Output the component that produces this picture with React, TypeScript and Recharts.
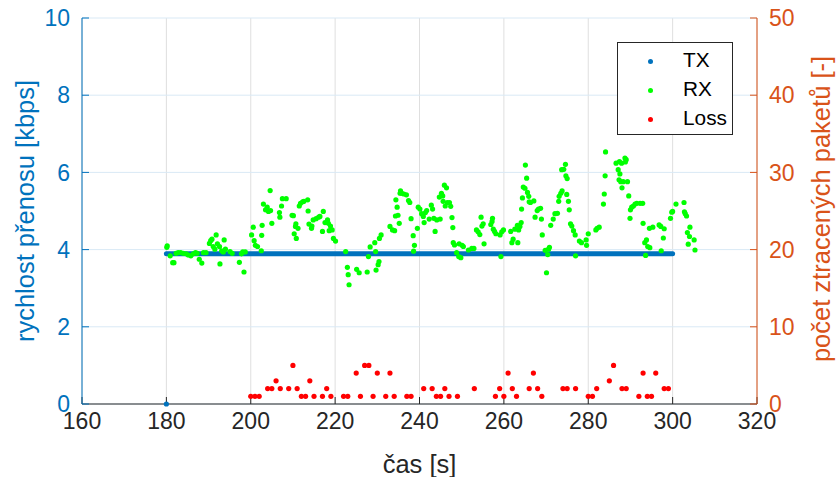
import { ScatterChart, Scatter, XAxis, YAxis, CartesianGrid } from 'recharts'

const BLUE = '#0072BD'
const ORANGE = '#D95319'
const INK = '#262626'
const FONT = '"Liberation Sans", Arial, Helvetica, sans-serif'

const xTicks = [160, 180, 200, 220, 240, 260, 280, 300, 320]
const rateTicks = [0, 2, 4, 6, 8, 10]
const lossTicks = [0, 10, 20, 30, 40, 50]

// TX: first sample is 0, then a steady rate to the end
const txTime = [180, 180, 300]
const txRate = [0, 3.89, 3.89]

const rxTime = [
  180.1, 180.2, 180.9, 181.5, 181.8, 182.3, 182.8, 183.4, 184.0, 184.7, 185.2, 185.8, 186.4, 186.9, 187.3,
  187.8, 188.4, 188.8, 189.4, 190.2, 190.5, 190.8, 191.1, 191.5, 191.8, 192.1, 192.6, 192.7, 193.1, 193.5,
  193.7, 194.0, 195.1, 195.6, 197.3, 197.8, 198.1, 198.4, 198.7, 200.2, 200.6, 200.8, 201.1, 201.6, 202.5,
  202.6, 202.7, 203.0, 203.5, 203.9, 204.2, 204.6, 204.7, 205.0, 206.8, 206.9, 207.3, 207.5, 208.4, 209.8,
  210.1, 210.3, 210.6, 210.7, 210.8, 211.2, 211.5, 211.8, 212.3, 212.6, 213.5, 213.6, 213.8, 214.4, 214.5,
  214.8, 215.5, 216.1, 216.4, 217.0, 217.2, 217.6, 218.2, 218.4, 218.6, 218.9, 219.3, 219.6, 220.1, 222.5,
  222.9, 223.1, 223.3, 225.1, 225.7, 227.6, 227.9, 228.3, 229.4, 229.6, 229.7, 230.2, 230.4, 230.5, 230.9,
  233.0, 233.6, 234.1, 234.3, 234.4, 234.7, 234.9, 235.2, 235.4, 235.5, 235.8, 236.3, 236.9, 237.4, 237.7,
  238.0, 238.5, 238.6, 238.8, 239.5, 239.7, 240.1, 240.5, 240.9, 241.1, 241.4, 241.7, 242.3, 242.8, 243.1,
  243.4, 243.7, 244.1, 244.7, 244.9, 245.2, 245.5, 245.6, 245.9, 246.1, 246.4, 246.6, 247.1, 247.4, 247.7,
  247.9, 248.0, 248.3, 248.8, 249.3, 249.4, 249.8, 250.1, 250.4, 251.6, 252.4, 252.9, 253.5, 253.9, 254.3,
  254.6, 254.8, 255.1, 255.3, 256.9, 257.2, 257.3, 257.5, 257.8, 258.1, 259.1, 259.3, 259.5, 259.9, 261.6,
  261.9, 262.2, 262.6, 263.2, 263.3, 263.5, 263.8, 264.1, 264.2, 264.4, 264.6, 265.0, 265.1, 265.4, 265.6,
  265.9, 266.0, 266.3, 267.1, 267.4, 267.9, 268.2, 268.7, 268.9, 269.1, 269.8, 270.1, 270.4, 270.6, 270.8,
  271.1, 271.7, 272.1, 272.7, 273.0, 273.1, 273.5, 273.7, 273.8, 274.2, 274.6, 274.7, 274.9, 275.0, 275.3,
  275.5, 275.8, 276.1, 276.5, 276.9, 277.0, 277.9, 278.4, 279.5, 279.6, 280.0, 281.8, 282.1, 282.6, 283.6,
  283.8, 284.0, 284.1, 286.6, 287.4, 287.9, 288.7, 289.0, 288.8, 287.1, 287.5, 287.3, 287.7, 288.3, 289.3,
  288.0, 289.6, 290.3, 290.7, 291.1, 291.5, 292.3, 292.9, 290.0, 289.9, 293.0, 294.5, 295.3, 293.8, 293.4,
  294.1, 294.6, 293.6, 296.8, 297.2, 298.0, 297.8, 297.3, 299.5, 299.8, 300.0, 300.8, 302.7, 302.8, 303.0,
  303.3, 304.1, 303.5, 304.0, 303.7, 305.1, 305.3,
]
const rxRate = [
  4.06, 4.10, 3.84, 3.66, 3.66, 3.90, 3.92, 3.92, 3.90, 3.89, 3.86, 3.84, 3.89, 3.92, 3.90,
  3.75, 3.65, 3.92, 3.92, 4.16, 4.23, 4.27, 4.08, 4.01, 4.38, 4.15, 4.08, 3.63, 3.97, 3.94,
  4.25, 4.01, 3.95, 3.90, 3.67, 3.89, 3.94, 3.42, 3.94, 4.38, 4.58, 4.23, 4.11, 4.08, 3.97,
  4.37, 4.63, 5.18, 5.03, 5.10, 4.99, 5.53, 5.01, 4.68, 4.96, 4.84, 5.13, 5.32, 5.32, 4.89,
  4.88, 4.41, 4.60, 4.67, 4.29, 4.55, 5.13, 5.20, 5.24, 5.25, 5.29, 5.00, 4.66, 4.55, 4.61,
  4.77, 4.80, 4.84, 4.86, 4.47, 4.99, 4.70, 4.77, 4.68, 4.49, 4.61, 4.51, 4.29, 4.22, 3.95,
  3.54, 3.35, 3.09, 3.49, 3.40, 3.42, 3.82, 4.07, 4.18, 3.95, 3.47, 3.61, 3.69, 4.29, 4.38,
  4.60, 4.51, 4.49, 4.87, 5.29, 5.10, 4.89, 4.68, 5.46, 5.52, 5.46, 5.44, 5.42, 5.27, 5.22,
  4.80, 4.36, 3.96, 4.11, 4.55, 5.10, 5.05, 4.93, 4.86, 4.70, 4.96, 5.01, 4.79, 5.15, 5.05,
  4.81, 4.47, 4.77, 5.36, 4.79, 5.46, 5.39, 5.25, 5.67, 5.13, 5.60, 5.22, 5.22, 5.12, 4.83,
  4.57, 4.18, 4.12, 3.92, 3.82, 4.15, 3.79, 4.11, 4.08, 3.99, 4.03, 4.03, 4.51, 4.46, 4.39,
  4.84, 4.61, 4.67, 4.15, 4.65, 4.73, 4.81, 4.53, 4.47, 4.41, 4.38, 3.82, 4.46, 4.51, 4.47,
  4.18, 4.27, 4.53, 4.63, 4.18, 4.51, 4.60, 4.70, 5.05, 5.34, 5.62, 5.59, 6.19, 5.85, 5.48,
  5.38, 5.24, 5.22, 5.26, 4.84, 5.01, 5.05, 5.07, 4.79, 4.38, 3.98, 3.40, 3.87, 4.01, 4.06,
  4.63, 4.79, 4.93, 4.94, 5.25, 5.38, 5.46, 6.07, 5.52, 6.08, 6.21, 5.91, 5.43, 5.84, 5.25,
  5.03, 4.67, 4.61, 4.49, 4.38, 3.84, 4.22, 4.18, 4.25, 4.11, 4.41, 4.51, 4.55, 4.58, 5.18,
  5.44, 5.91, 6.53, 6.24, 6.28, 6.24, 6.37, 6.33, 6.27, 6.07, 5.96, 5.81, 5.76, 5.76, 5.76,
  5.60, 5.39, 5.10, 5.13, 5.18, 5.20, 5.20, 5.20, 5.03, 4.81, 4.68, 4.55, 4.58, 4.25, 4.18,
  4.08, 4.05, 3.85, 4.64, 4.60, 4.54, 4.30, 3.97, 4.81, 4.97, 4.99, 5.18, 5.22, 4.98, 4.93,
  4.87, 4.58, 4.44, 4.34, 4.14, 4.25, 3.99,
]

const lossTime = [
  200, 201, 202, 204, 205, 206, 207, 209, 210, 211, 212, 213, 214, 215, 217, 218, 219, 222, 223, 225,
  226, 227, 228, 229, 230, 232, 233, 234, 237, 238, 241, 243, 244, 245, 246, 247, 249, 253, 258, 259,
  260, 261, 262, 263, 266, 267, 268, 269, 274, 275, 277, 280, 281, 282, 285, 286, 288, 289, 292, 293,
  294, 295, 296, 298, 299,
]
const lossCount = [
  1, 1, 1, 2, 2, 3, 2, 2, 5, 2, 1, 1, 3, 1, 1, 2, 1, 1, 1, 4,
  1, 5, 5, 1, 4, 1, 4, 1, 1, 1, 2, 2, 1, 1, 2, 1, 1, 2, 1, 2,
  1, 4, 2, 1, 2, 4, 2, 1, 2, 2, 2, 1, 1, 2, 3, 5, 2, 2, 1, 4,
  1, 1, 4, 2, 2,
]

const legendItems = [
  { name: 'TX', color: BLUE },
  { name: 'RX', color: '#00FF00' },
  { name: 'Loss', color: '#FF0000' },
]

const toPoints = (ts: number[], vs: number[]) => ts.map((t, i) => ({ t, v: vs[i] }))

const txStart = toPoints(txTime.slice(0, 1), txRate.slice(0, 1))
const txRun = toPoints(txTime.slice(1), txRate.slice(1))
const rxData = toPoints(rxTime, rxRate)
const lossData = toPoints(lossTime, lossCount)

const dot = (fill: string) => (p: any) => <circle cx={p.cx} cy={p.cy} r={2.6} fill={fill} />

const title = (text: string, fill: string, pos: (vb: any) => { x: number; y: number }, angle = 0) =>
  (props: any) => {
    const { x, y } = pos(props.viewBox)
    return (
      <text
        x={x}
        y={y}
        fill={fill}
        fontSize={25.5}
        textAnchor="middle"
        transform={angle ? `rotate(${angle} ${x} ${y})` : undefined}>
        {text}
      </text>
    )
  }

const Legend = () => (
  <div
    style={{
      position: 'absolute',
      left: 617,
      top: 42,
      width: 116,
      height: 93,
      border: `1px solid ${INK}`,
      background: '#fff',
      boxSizing: 'border-box',
    }}>
    {legendItems.map((item, i) => (
      <div
        key={item.name}
        style={{ position: 'absolute', left: 0, top: 4 + i * 29, height: 28, width: '100%' }}>
        <span
          style={{
            position: 'absolute',
            left: 30,
            top: 12,
            width: 5,
            height: 5,
            borderRadius: '50%',
            background: item.color,
          }}
        />
        <span style={{ position: 'absolute', left: 65, top: 1, fontSize: 20.8, color: '#000' }}>
          {item.name}
        </span>
      </div>
    ))}
  </div>
)

const App = () => (
  <div style={{ position: 'absolute', left: 0, top: 0, width: 836, height: 477, fontFamily: FONT, background: '#fff' }}>
    <ScatterChart width={836} height={477} margin={{ top: 18, right: 0, bottom: 0, left: 0 }}>
      <CartesianGrid yAxisId="left" horizontal={false} stroke="#dfdfdf" />
      <CartesianGrid yAxisId="left" vertical={false} stroke="#d9e9f5" />
      <XAxis
        dataKey="t"
        type="number"
        domain={[160, 320]}
        ticks={xTicks}
        height={73}
        stroke={INK}
        tickSize={-7}
        tickMargin={16}
        tick={{ fill: INK, fontSize: 23 }}
        label={title('čas [s]', INK, (vb) => ({ x: vb.x + vb.width / 2, y: vb.y + 69 }))}
      />
      <XAxis
        xAxisId="top"
        orientation="top"
        dataKey="t"
        type="number"
        domain={[160, 320]}
        ticks={xTicks}
        height={0}
        stroke={INK}
        tickSize={-7}
        tick={false}
      />
      <YAxis
        yAxisId="left"
        dataKey="v"
        type="number"
        domain={[0, 10]}
        ticks={rateTicks}
        width={82}
        stroke={BLUE}
        tickSize={-7}
        tickMargin={19}
        tick={{ fill: BLUE, fontSize: 23 }}
        label={title('rychlost přenosu [kbps]', BLUE, (vb) => ({ x: vb.x + 34, y: vb.y + vb.height / 2 }), -90)}
      />
      <YAxis
        yAxisId="right"
        orientation="right"
        dataKey="v"
        type="number"
        domain={[0, 50]}
        ticks={lossTicks}
        width={79}
        stroke={ORANGE}
        tickSize={-7}
        tickMargin={19}
        tick={{ fill: ORANGE, fontSize: 23 }}
        label={title('počet ztracených paketů [-]', ORANGE, (vb) => ({ x: vb.x + 73, y: vb.y + vb.height / 2 - 2 }), -90)}
      />
      <Scatter
        name="TX"
        yAxisId="left"
        data={txRun}
        fill={BLUE}
        line={{ stroke: BLUE, strokeWidth: 5, strokeLinecap: 'round' }}
        shape={() => <g />}
        isAnimationActive={false}
      />
      <Scatter yAxisId="left" data={txStart} shape={dot(BLUE)} isAnimationActive={false} />
      <Scatter name="RX" yAxisId="left" data={rxData} shape={dot('#00FF00')} isAnimationActive={false} />
      <Scatter name="Loss" yAxisId="right" data={lossData} shape={dot('#FF0000')} isAnimationActive={false} />
    </ScatterChart>
    <Legend />
  </div>
)

export default App
